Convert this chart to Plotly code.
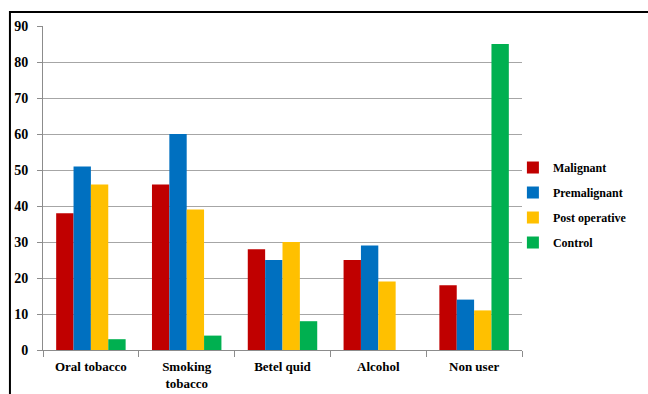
import plotly.graph_objects as go

categories = ["Oral tobacco", "Smoking<br>tobacco", "Betel quid", "Alcohol", "Non user"]
malignant = [38, 46, 28, 25, 18]
premalignant = [51, 60, 25, 29, 14]
post_operative = [46, 39, 30, 19, 11]
control = [3, 4, 8, 0, 85]
series_names = ["Malignant", "Premalignant", "Post operative", "Control"]
colors = ["#C00000", "#0070C0", "#FFC000", "#00B050"]
y_ticks = [0, 10, 20, 30, 40, 50, 60, 70, 80, 90]

fig = go.Figure()
for name, vals, c in zip(series_names, [malignant, premalignant, post_operative, control], colors):
    fig.add_trace(go.Bar(name=name, x=categories, y=vals, legendgroup=name,
                         marker=dict(color=c, line=dict(width=0))))

font_family = "Liberation Serif"
fig.update_layout(
    width=648, height=394,
    margin=dict(l=43, r=126, t=26, b=44, autoexpand=False),
    paper_bgcolor="white", plot_bgcolor="white",
    barmode="group", bargap=0.275, bargroupgap=0,
    font=dict(family=font_family, size=13, color="black"),
    showlegend=True,
    legend=dict(x=0.981, y=0.4475, xanchor="left", yanchor="middle",
                bgcolor="rgba(0,0,0,0)",
                font=dict(family=font_family, size=12, color="black", weight="bold"),
                traceorder="grouped", tracegroupgap=6, itemwidth=30),
    xaxis=dict(showline=True, linecolor="#8c8c8c", linewidth=1,
               ticks="outside", tickson="boundaries", ticklen=6, tickcolor="#8c8c8c",
               ticklabelstandoff=4,
               tickfont=dict(family=font_family, size=13, color="black", weight="bold"),
               showgrid=False),
    yaxis=dict(range=[0, 90], tickvals=y_ticks, showline=True, linecolor="#8c8c8c", linewidth=1,
               ticks="outside", ticklen=5, tickcolor="#8c8c8c", ticklabelstandoff=6,
               showgrid=True, gridcolor="#a6a6a6", gridwidth=1, zeroline=False,
               tickfont=dict(family=font_family, size=14, color="black", weight="bold")),
    shapes=[dict(type="rect", xref="paper", yref="paper",
                 x0=-0.069, x1=2, y0=-1, y1=1.043,
                 line=dict(color="black", width=2), fillcolor="rgba(0,0,0,0)", layer="above")],
)

fig.write_html("out.html")
